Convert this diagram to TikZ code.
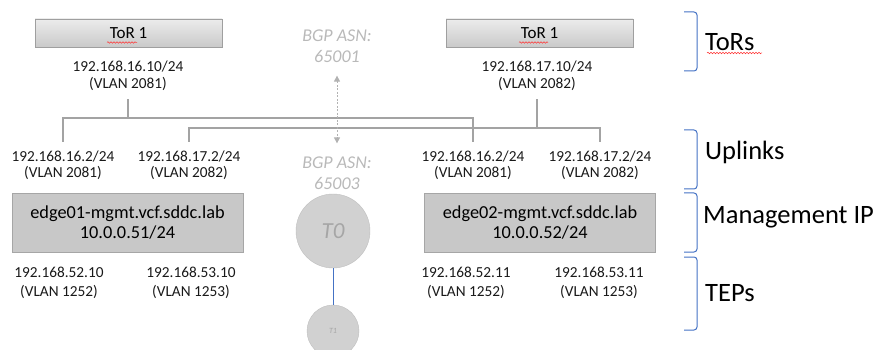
\documentclass[tikz,border=0pt]{standalone}
\usepackage{fontspec}
\setmainfont{Carlito}
\usetikzlibrary{positioning, arrows.meta, calc, decorations.pathmorphing}
\definecolor{layerblue}{RGB}{68,114,196}
\tikzset{
  tor/.style={
    rectangle,
    draw=gray!75,
    top color=gray!15, bottom color=gray!42,
    minimum width=187pt,
    minimum height=28pt,
    font=\fontsize{17}{20}\selectfont
  },
  edgebox/.style={
    rectangle,
    draw=gray!70,
    fill=gray!43,
    minimum width=231pt,
    minimum height=59pt,
    align=center,
    font=\fontsize{18.3}{20.5}\selectfont
  },
  ip/.style={
    align=center,
    inner ysep=8.5pt,
    text=black!90,
    font=\fontsize{15.3}{16.5}\selectfont
  },
  tep/.style={
    ip,
    font=\fontsize{15.3}{19}\selectfont
  },
  asn/.style={
    align=center,
    inner ysep=13pt,
    text=gray!55,
    font=\fontsize{18}{21}\selectfont\itshape
  },
  router/.style={
    circle,
    draw=gray!50,
    fill=gray!36,
    text=gray!70,
    font=\itshape
  },
  link/.style={
    draw=gray!72,
    line width=1.3pt
  },
  bgp/.style={
    draw=gray!60,
    line width=0.8pt,
    dash pattern=on 2pt off 1.5pt,
    {Triangle[width=6pt,length=6pt]}-{Triangle[width=6pt,length=6pt]}
  },
  tlink/.style={
    draw=layerblue,
    line width=0.9pt
  },
  brace/.style={
    draw=layerblue,
    line width=1pt,
    rounded corners=3pt
  },
  layer/.style={
    anchor=west,
    inner sep=1pt,
    font=\fontsize{26.5}{30}\selectfont
  },
  squiggle/.style={
    draw=red!80,
    line width=0.5pt,
    decorate,
    decoration={snake, amplitude=0.8pt, segment length=3pt}
  }
}

\begin{document}
\begin{tikzpicture}[x=1pt, y=-1pt]
\useasboundingbox (0,0) rectangle (884,350);

% nodes

%% ToRs
\node[tor] (tor1) at (128.5,33) {ToR 1};
\node[tor] (tor2) at (539.5,33) {ToR 1};
\node[ip] (torip1) at (128,76) {192.168.16.10/24\\(VLAN 2081)};
\node[ip] (torip2) at (537,76) {192.168.17.10/24\\(VLAN 2082)};

%% BGP
\node[asn] (asn1) at (337,46) {BGP ASN:\\65001};
\node[asn] (asn2) at (337,173) {BGP ASN:\\65003};

%% uplinks
\node[ip] (up1) at (63,165) {192.168.16.2/24\\(VLAN 2081)};
\node[ip] (up2) at (189,165) {192.168.17.2/24\\(VLAN 2082)};
\node[ip] (up3) at (473,165) {192.168.16.2/24\\(VLAN 2081)};
\node[ip] (up4) at (600,165) {192.168.17.2/24\\(VLAN 2082)};

%% edges
\node[edgebox] (edge1) at (127.5,222.5) {edge01-mgmt.vcf.sddc.lab\\10.0.0.51/24};
\node[edgebox] (edge2) at (540,222.5) {edge02-mgmt.vcf.sddc.lab\\10.0.0.52/24};

%% TEPs
\node[tep] (tep1) at (59,282.5) {192.168.52.10\\(VLAN 1252)};
\node[tep] (tep2) at (191,282.5) {192.168.53.10\\(VLAN 1253)};
\node[tep] (tep3) at (466,282.5) {192.168.52.11\\(VLAN 1252)};
\node[tep] (tep4) at (599,282.5) {192.168.53.11\\(VLAN 1253)};

%% routers
\node[router, minimum size=74pt, font=\fontsize{23}{24}\selectfont\itshape] (t0) at (333,231) {T0};
\node[router, minimum size=52pt, font=\fontsize{8}{9}\selectfont\itshape] (t1) at (333,331) {T1};

%% layers
\node[layer] (lbltor) at (704,42) {ToRs};
\node[layer] (lblup) at (704,152) {Uplinks};
\node[layer] (lblmgmt) at (702,217) {Management IP};
\node[layer] (lbltep) at (704,293) {TEPs};

% edges

%% ToR 1
\coordinate (bus1) at (torip1.south |- 0,118);
\draw [link] (torip1.south) -- (bus1);
\draw [link] (up1.north) |- (bus1) -| (up3.north);

%% ToR 2
\coordinate (bus2) at (torip2.south |- 0,128);
\draw [link] (torip2.south) -- (bus2);
\draw [link] (up2.north) |- (bus2) -| (up4.north);

%% BGP peering
\draw [bgp] (asn1.south) -- (asn2.north);

%% T0 to T1
\draw [tlink] (t0.south) -- (t1.north);

%% brackets
\draw [brace] (684,12) -- (697,12) -- (697,71) -- (684,71);
\draw [brace] (684,130) -- (697,130) -- (697,189) -- (684,189);
\draw [brace] (684,193) -- (697,193) -- (697,252) -- (684,252);
\draw [brace] (684,257) -- (697,257) -- (697,330) -- (684,330);

%% spelling marks
\draw [squiggle] (107,42.5) -- (137,42.5);
\draw [squiggle] (519,42.5) -- (548,42.5);
\draw [squiggle] (707,53) -- (762,53);

\end{tikzpicture}
\end{document}
